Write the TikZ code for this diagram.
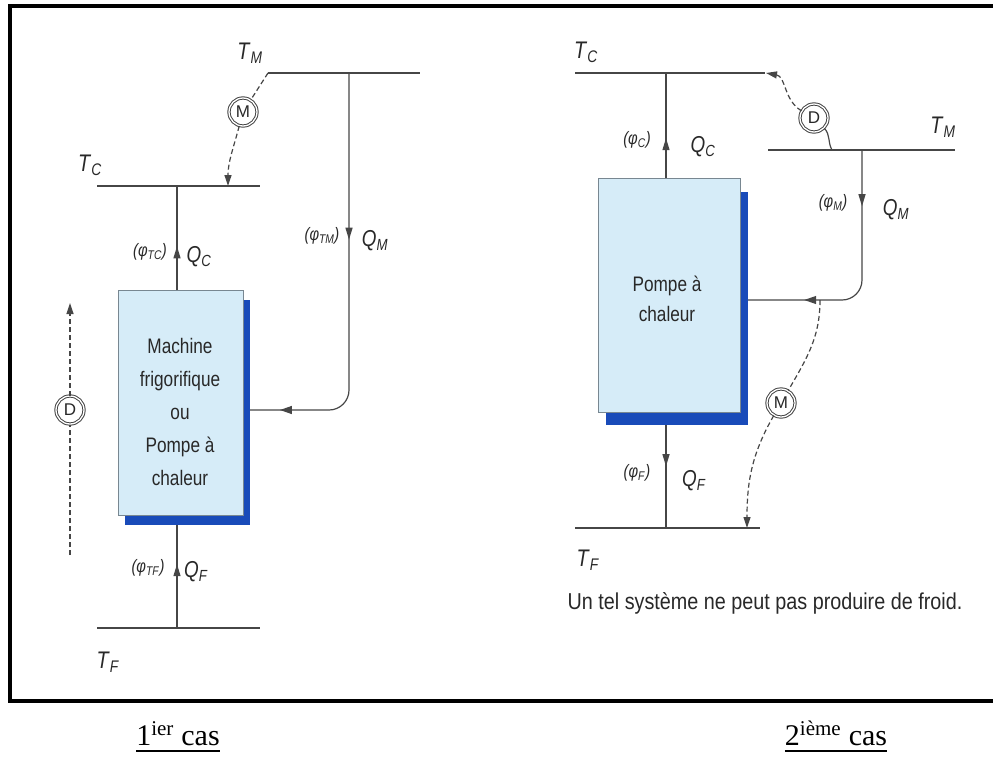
\documentclass[tikz,border=0pt]{standalone}
\usepackage{fontspec}
\usepackage{graphicx}
\setmainfont{Liberation Sans}
\newfontfamily\timesf{Liberation Serif}
\usetikzlibrary{arrows.meta,decorations.markings,calc}
\definecolor{boxfill}{RGB}{214,236,248}
\definecolor{boxedge}{RGB}{120,135,145}
\definecolor{shadowblue}{RGB}{25,75,185}
\definecolor{ink}{RGB}{70,70,70}
\definecolor{txt}{RGB}{40,40,40}
\newcommand\cond[1]{\scalebox{0.82}[1]{#1}}
\newcommand\lbl[2]{\cond{\textit{#1}\textsubscript{\textit{#2}}}}
\newcommand\phil[1]{\cond{\textit{(φ}\textsubscript{\textit{#1}}\textit{)}}}
\tikzset{
  rail/.style={draw=ink, line width=2.6pt},
  flow/.style={draw=ink, line width=1.2pt},
  onemark/.style={postaction=decorate, decoration={markings,
     mark=at position #1 with {\arrow{Triangle[length=12pt,width=7pt]}}}},
  twomarks/.style 2 args={postaction=decorate, decoration={markings,
     mark=at position #1 with {\arrow{Triangle[length=12pt,width=7pt]}},
     mark=at position #2 with {\arrow{Triangle[length=12pt,width=8pt]}}}},
  dash line/.style={draw=ink, line width=1.2pt, dash pattern=on 5pt off 3pt},
  tip/.style={-{Triangle[length=11pt,width=7pt]}},
  machine/.style={draw=boxedge, line width=0.8pt, fill=boxfill, inner sep=0pt},
  boxtext/.style={align=center, text=txt, font=\fontsize{21}{33}\selectfont},
  shadowbox/.style={fill=shadowblue, draw=none},
  ring/.style={circle, draw=ink, line width=1pt, double=white, double distance=1.3pt,
     minimum size=28pt, inner sep=0pt, text=txt, font=\fontsize{17}{17}\selectfont},
  tlab/.style={font=\fontsize{24}{24}\selectfont, text=txt},
  qlab/.style={font=\fontsize{23}{23}\selectfont, text=txt},
  plab/.style={font=\fontsize{18}{18}\selectfont, text=txt},
  capcase/.style={font=\timesf\fontsize{30}{30}\selectfont, inner sep=0pt, anchor=base},
}
\begin{document}
\begin{tikzpicture}[x=1pt,y=-1pt]
\useasboundingbox (0,0) rectangle (993,758);
% frame
\draw[line width=4pt] (993,6) -- (10,6) -- (10,701) -- (993,701);

% ================= Case 1 =================
\coordinate (TMla) at (268,73); \coordinate (TMlb) at (420,73);
\coordinate (TCla) at (97,186); \coordinate (TClb) at (260,186);
\coordinate (TFla) at (97,628); \coordinate (TFlb) at (260,628);
\draw[rail] (TMla) -- (TMlb);
\draw[rail] (TCla) -- (TClb);
\draw[rail] (TFla) -- (TFlb);
\node[tlab] (tm1) at (250,53) {\lbl{T}{M}};
\node[tlab] (tc1) at (90,165) {\lbl{T}{C}};
\node[tlab] (tf1) at (108,662) {\lbl{T}{F}};

\fill[shadowbox] (125,300) rectangle (250,525);
\node[machine, minimum width=125pt, minimum height=225pt] (box1) at (180.5,402.5) {};
\node[boxtext] (box1txt) at (180,412)
  {\cond{Machine}\\\cond{frigorifique}\\\cond{ou}\\\cond{Pompe à}\\\cond{chaleur}};

\coordinate (b1top) at (177,290);
\coordinate (b1bot) at (177,525);
\coordinate (TC1j) at (177,186);
\coordinate (TF1j) at (177,628);
\coordinate (TM1j) at (349,73);
\coordinate (b1right) at (250,410);
\draw[flow, onemark=0.42] (b1top) -- (TC1j);
\draw[flow, onemark=0.62] (TF1j) -- (b1bot);
\draw[flow, rounded corners=20pt, twomarks={0.39}{0.93}] (TM1j) -- (349,410) -- (b1right);

\node[plab] (p1c) at (150,252) {\phil{TC}};
\node[qlab] (q1c) at (199,257) {\lbl{Q}{C}};
\node[plab] (p1m) at (322,236) {\phil{TM}};
\node[qlab] (q1m) at (375,241) {\lbl{Q}{M}};
\node[plab] (p1f) at (148,568) {\phil{TF}};
\node[qlab] (q1f) at (196,572) {\lbl{Q}{F}};

\node[ring] (M1) at (243,112) {M};
\draw[dash line] (TMla) -- (M1);
\coordinate (M1end) at (228,186);
\draw[dash line, tip] (M1) to[out=-105,in=90] (M1end);

\node[ring] (D1) at (70,410) {D};
\coordinate (D1a) at (70,555);
\coordinate (D1b) at (70,303);
\draw[dash line] (D1a) -- (D1);
\draw[dash line, tip] (D1) -- (D1b);

% ================= Case 2 =================
\coordinate (TC2a) at (575,73); \coordinate (TC2b) at (765,73);
\coordinate (TM2a) at (768,150); \coordinate (TM2b) at (955,150);
\coordinate (TF2a) at (575,528); \coordinate (TF2b) at (760,528);
\draw[rail] (TC2a) -- (TC2b);
\draw[rail] (TM2a) -- (TM2b);
\draw[rail] (TF2a) -- (TF2b);
\node[tlab] (tc2) at (586,52) {\lbl{T}{C}};
\node[tlab] (tm2) at (943,127) {\lbl{T}{M}};
\node[tlab] (tf2) at (588,560) {\lbl{T}{F}};

\fill[shadowbox] (606,192) rectangle (748,425);
\node[machine, minimum width=142pt, minimum height=234pt] (box2) at (669,295) {};
\node[boxtext, font=\fontsize{21}{30}\selectfont] (box2txt) at (667,299) {\cond{Pompe à}\\\cond{chaleur}};

\coordinate (b2top) at (666,178);
\coordinate (b2bot) at (666,425);
\coordinate (TC2j) at (666,73);
\coordinate (TF2j) at (666,528);
\coordinate (TM2j) at (862,150);
\coordinate (b2right) at (748,300);
\draw[flow, onemark=0.38] (b2top) -- (TC2j);
\draw[flow, onemark=0.40] (b2bot) -- (TF2j);
\draw[flow, rounded corners=20pt, twomarks={0.22}{0.78}] (TM2j) -- (862,300) -- (b2right);

\node[plab] (p2c) at (637,140) {\phil{C}};
\node[qlab] (q2c) at (703,147) {\lbl{Q}{C}};
\node[plab] (p2m) at (833,203) {\phil{M}};
\node[qlab] (q2m) at (896,210) {\lbl{Q}{M}};
\node[plab] (p2f) at (637,473) {\phil{F}};
\node[qlab] (q2f) at (694,481) {\lbl{Q}{F}};

\node[ring] (D2) at (814,118) {D};
\coordinate (D2end) at (766,73);
\coordinate (D2foot) at (832,150);
\draw[dash line, tip] (D2) to[out=150,in=-10] (D2end);
\draw[flow] (D2foot) to[out=120,in=-45] (D2);

\node[ring] (M2) at (781,403) {M};
\coordinate (M2start) at (820,300);
\coordinate (M2end) at (747,528);
\draw[dash line] (M2start) to[out=-90,in=60] (M2);
\draw[dash line, tip] (M2) to[out=-120,in=90] (M2end);

\node[font=\fontsize{23}{23}\selectfont, text=txt] (cap2) at (765,603)
  {\scalebox{0.86}[1]{Un tel système ne peut pas produire de froid.}};

% ================= Captions =================
\node[capcase] (c1) at (178,745) {1\textsuperscript{ier} cas};
\node[capcase] (c2) at (836,745) {2\textsuperscript{ième} cas};
\draw[line width=2.2pt] ($(c1.base west)+(0,6)$) -- ($(c1.base east)+(0,6)$);
\draw[line width=2.2pt] ($(c2.base west)+(0,6)$) -- ($(c2.base east)+(0,6)$);
\end{tikzpicture}
\end{document}
